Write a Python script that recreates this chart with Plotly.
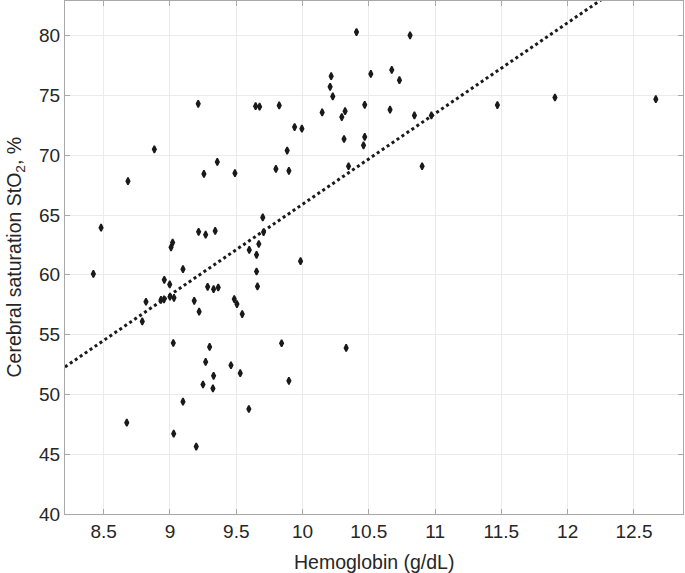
import plotly.graph_objects as go

hemoglobin = [
    8.422, 8.48, 8.674, 8.683, 8.791, 8.819, 8.882, 8.932, 8.955, 8.957,
    8.998, 9.0, 9.03, 9.008, 9.02, 9.025, 9.028, 9.098, 9.098, 9.183,
    9.198, 9.213, 9.216, 9.22, 9.249, 9.256, 9.269, 9.269, 9.284, 9.299,
    9.324, 9.329, 9.329, 9.341, 9.357, 9.364, 9.46, 9.485, 9.49, 9.505,
    9.53, 9.545, 9.595, 9.598, 9.646, 9.653, 9.653, 9.66, 9.67, 9.676,
    9.70, 9.706, 9.799, 9.824, 9.842, 9.884, 9.897, 9.897, 9.94, 9.985,
    9.995, 10.148, 10.208, 10.216, 10.228, 10.296, 10.313, 10.321, 10.329, 10.347,
    10.407, 10.46, 10.469, 10.469, 10.515, 10.66, 10.673, 10.731, 10.811, 10.844,
    10.902, 10.972, 11.47, 11.904, 12.665,
]
sto2 = [
    60.08, 63.94, 47.64, 67.83, 56.1, 57.75, 70.5, 57.9, 57.95, 59.58,
    59.2, 58.17, 58.08, 62.3, 62.7, 54.3, 46.72, 60.47, 49.39, 57.83,
    45.64, 74.3, 63.6, 56.92, 50.83, 68.44, 63.36, 52.72, 59.0, 53.97,
    50.5, 58.8, 51.56, 63.67, 69.44, 58.94, 52.44, 57.97, 68.5, 57.56,
    51.78, 56.72, 48.78, 62.08, 74.1, 61.67, 60.28, 59.03, 62.58, 74.06,
    64.8, 63.58, 68.86, 74.17, 54.28, 70.39, 68.7, 51.14, 72.36, 61.14,
    72.22, 73.58, 75.72, 76.61, 74.92, 73.19, 71.36, 73.69, 53.89, 69.08,
    80.3, 70.83, 71.53, 74.22, 76.8, 73.81, 77.14, 76.28, 80.03, 73.33,
    69.08, 73.33, 74.2, 74.83, 74.69,
]

fit_slope = 7.59
fit_intercept = -10.0

x_range = [8.208, 12.87]
y_range = [40, 82.9]
x_ticks = [8.5, 9, 9.5, 10, 10.5, 11, 11.5, 12, 12.5]
x_tick_labels = ["8.5", "9", "9.5", "10", "10.5", "11", "11.5", "12", "12.5"]
y_ticks = [40, 45, 50, 55, 60, 65, 70, 75, 80]

x_title = "Hemoglobin (g/dL)"
y_title = "Cerebral saturation StO<sub>2</sub>, %"

fit_x = x_range
fit_y = [fit_slope * v + fit_intercept for v in fit_x]

FONT = "Liberation Sans, Arial, Helvetica, sans-serif"
TXT = "#262626"
FS_TICK = 19
FS_TITLE = 19.5

fig = go.Figure()
fig.add_trace(go.Scatter(
    x=fit_x, y=fit_y, mode="lines",
    line=dict(color="#1a1a1a", width=3, dash="dot"),
    hoverinfo="skip", showlegend=False,
))
fig.add_trace(go.Scatter(
    x=hemoglobin, y=sto2, mode="markers",
    marker=dict(symbol="diamond-tall", size=5, color="#1a1a1a",
                line=dict(color="#1a1a1a", width=1.6)),
    showlegend=False,
))

axis_common = dict(
    showgrid=True, gridcolor="#ebebeb", gridwidth=1,
    showline=True, linecolor="#a8a8a8", linewidth=1, mirror="allticks",
    ticks="inside", ticklen=5, tickcolor="#a8a8a8", tickwidth=1,
    zeroline=False, automargin=False,
    tickfont=dict(family=FONT, size=FS_TICK, color=TXT),
)

fig.update_layout(
    width=685, height=573,
    margin=dict(l=65, r=2, t=1, b=59),
    paper_bgcolor="white", plot_bgcolor="white",
    font=dict(family=FONT, color=TXT),
    xaxis=dict(range=x_range, tickvals=x_ticks, ticktext=x_tick_labels, **axis_common),
    yaxis=dict(range=y_range, tickvals=y_ticks, **axis_common),
    annotations=[
        dict(text=x_title, xref="paper", yref="paper", x=0.5, y=0,
             xanchor="center", yanchor="middle", yshift=-48, showarrow=False,
             font=dict(family=FONT, size=FS_TITLE, color=TXT)),
        dict(text=y_title, xref="paper", yref="paper", x=0, y=0.5,
             xanchor="center", yanchor="middle", xshift=-50, textangle=-90,
             showarrow=False, font=dict(family=FONT, size=FS_TITLE, color=TXT)),
    ],
)

fig.write_html(
    "out.html",
    config={"displayModeBar": False},
    post_script="document.body.style.margin='0';document.body.style.overflow='hidden';",
)
